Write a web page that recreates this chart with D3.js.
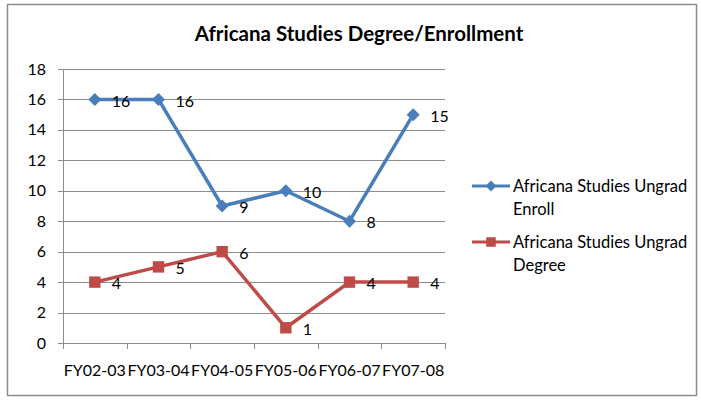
<!DOCTYPE html>
<html>
<head>
<meta charset="utf-8">
<style>
    body { margin: 0; background: #fff; }
    svg text { font-family: Lato, "Open Sans", sans-serif; fill: #000; }
    .grid line { stroke: #8c8c8c; stroke-width: 1; }
</style>
</head>
<body>
<div id="chart"></div>
<script src="https://cdnjs.cloudflare.com/ajax/libs/d3/7.8.5/d3.min.js"></script>
<script>
    var categories = ['FY02-03', 'FY03-04', 'FY04-05', 'FY05-06', 'FY06-07', 'FY07-08'];
    var enroll = [16, 16, 9, 10, 8, 15];
    var degree = [4, 5, 6, 1, 4, 4];
    var seriesNames = ['Africana Studies Ungrad Enroll', 'Africana Studies Ungrad Degree'];
    var yTicks = [0, 2, 4, 6, 8, 10, 12, 14, 16, 18];

    var W = 701, H = 401;
    var pLeft = 63, pRight = 445, pTop = 69, pBottom = 343;

    var svg = d3.select('#chart').append('svg')
        .attr('width', W).attr('height', H);

    // outer frame
    svg.append('rect')
        .attr('x', 7.5).attr('y', 4.5)
        .attr('width', 689).attr('height', 391)
        .attr('fill', '#fff').attr('stroke', '#8c8c8c').attr('stroke-width', 1.5);

    svg.append('text')
        .attr('x', 359).attr('y', 41)
        .attr('text-anchor', 'middle')
        .style('font-size', '20.5px').style('font-weight', 'bold')
        .text('Africana Studies Degree/Enrollment');

    var x = d3.scaleBand().domain(categories).range([pLeft, pRight]);
    var y = d3.scaleLinear().domain([0, 18]).range([pBottom, pTop]);

    // gridlines
    var grid = svg.append('g').attr('class', 'grid');
    grid.selectAll('line').data(yTicks).enter().append('line')
        .attr('x1', pLeft - 5).attr('x2', pRight)
        .attr('y1', function (d) { return Math.round(y(d)) + 0.5; })
        .attr('y2', function (d) { return Math.round(y(d)) + 0.5; });

    // y axis line and labels
    svg.append('line')
        .attr('x1', pLeft + 0.5).attr('x2', pLeft + 0.5)
        .attr('y1', pTop).attr('y2', pBottom)
        .attr('stroke', '#8c8c8c');
    svg.append('g').selectAll('text').data(yTicks).enter().append('text')
        .attr('x', 46).attr('y', function (d) { return y(d); })
        .attr('dy', '0.35em')
        .attr('text-anchor', 'end')
        .style('font-size', '16px')
        .text(function (d) { return d; });

    // x axis ticks
    var xTickPos = categories.map(function (c) { return x(c); }).concat([pRight]);
    svg.append('g').selectAll('line').data(xTickPos).enter().append('line')
        .attr('x1', function (d) { return Math.round(d) + 0.5; })
        .attr('x2', function (d) { return Math.round(d) + 0.5; })
        .attr('y1', pBottom).attr('y2', pBottom + 6)
        .attr('stroke', '#8c8c8c');
    svg.append('g').selectAll('text').data(categories).enter().append('text')
        .attr('x', function (d) { return x(d) + x.bandwidth() / 2; })
        .attr('y', 376)
        .attr('text-anchor', 'middle')
        .style('font-size', '16px')
        .text(function (d) { return d; });

    var cx = function (d, i) { return x(categories[i]) + x.bandwidth() / 2; };
    var line = d3.line()
        .x(function (d, i) { return cx(d, i); })
        .y(function (d) { return y(d); });

    var series = [
        { values: enroll, color: '#4A7EBB', size: 85, rot: 45 },
        { values: degree, color: '#BE4B48', size: 130, rot: 0 }
    ];

    series.forEach(function (s) {
        var g = svg.append('g');
        g.append('path')
            .attr('d', line(s.values))
            .attr('fill', 'none')
            .attr('stroke', s.color)
            .attr('stroke-width', 3.5)
            .attr('stroke-linejoin', 'round');
        g.selectAll('path.m').data(s.values).enter().append('path')
            .attr('class', 'm')
            .attr('transform', function (d, i) {
                return 'translate(' + cx(d, i) + ',' + y(d) + ') rotate(' + s.rot + ')';
            })
            .attr('d', d3.symbol().type(d3.symbolSquare).size(s.size))
            .attr('fill', s.color);
        g.selectAll('text').data(s.values).enter().append('text')
            .attr('x', function (d, i) { return cx(d, i) + 17; })
            .attr('y', function (d) { return y(d) + 1.5; })
            .attr('dy', '0.35em')
            .style('font-size', '16px')
            .text(function (d) { return d; });
    });

    // legend
    var legend = svg.append('g');
    var legendY = [186, 242];
    series.forEach(function (s, i) {
        var ly = legendY[i];
        legend.append('line')
            .attr('x1', 472).attr('x2', 510)
            .attr('y1', ly).attr('y2', ly)
            .attr('stroke', s.color).attr('stroke-width', 3);
        legend.append('path')
            .attr('transform', 'translate(491,' + ly + ') rotate(' + s.rot + ')')
            .attr('d', d3.symbol().type(d3.symbolSquare).size(s.size * 0.7))
            .attr('fill', s.color);
        var words = seriesNames[i].split(' ');
        var t = legend.append('text').attr('x', 513).attr('y', ly).style('font-size', '16.5px');
        t.append('tspan').attr('x', 513).attr('dy', '0.35em').text(words.slice(0, 3).join(' '));
        t.append('tspan').attr('x', 513).attr('dy', '1.4em').text(words.slice(3).join(' '));
    });
</script>
</body>
</html>
